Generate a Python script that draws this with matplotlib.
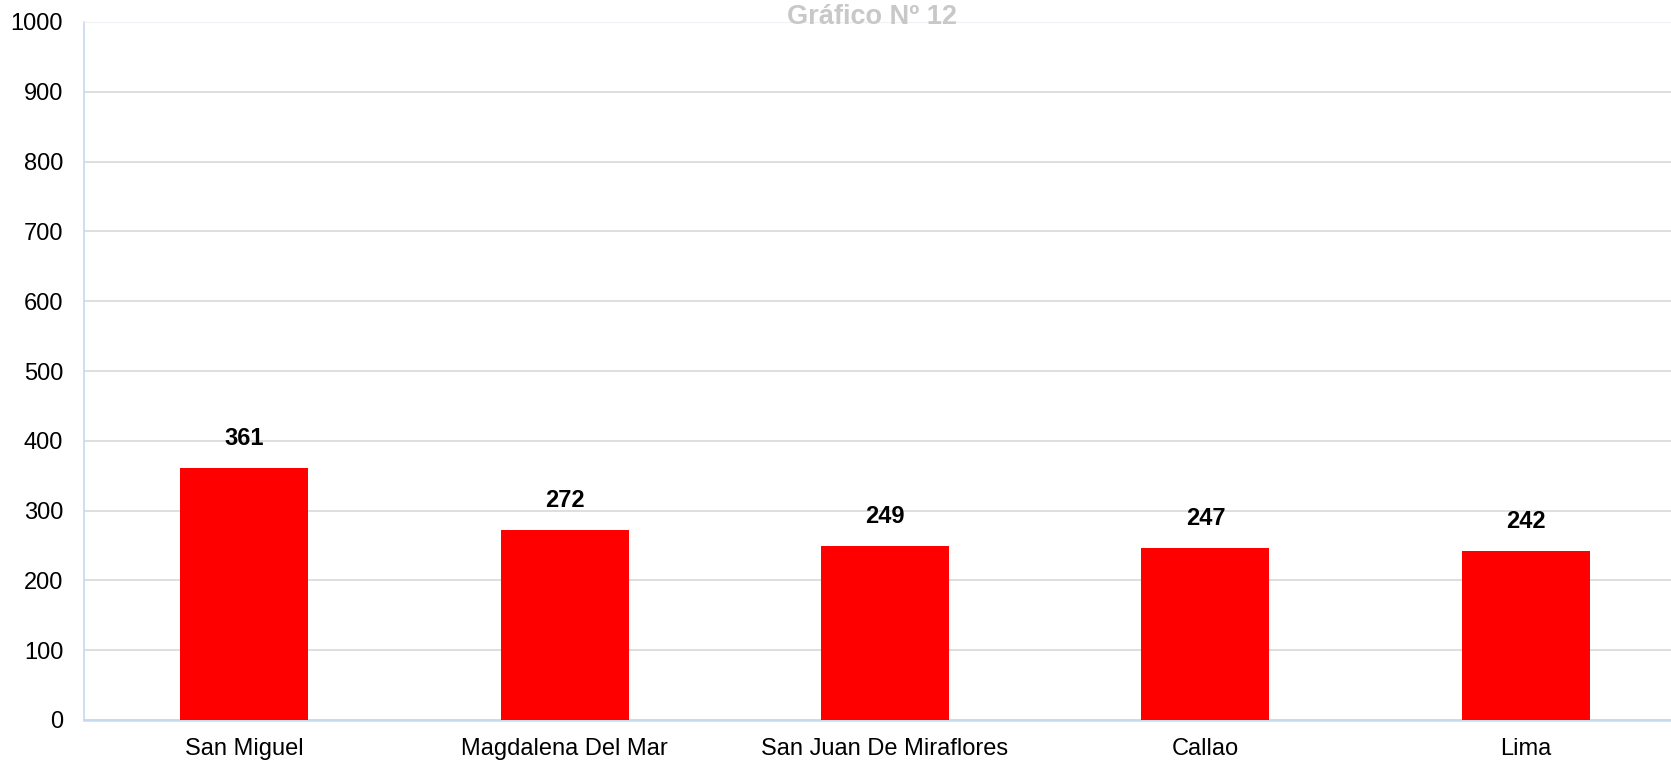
import matplotlib.pyplot as plt

plt.rcParams['font.family'] = ['Liberation Sans', 'DejaVu Sans']

distritos = ["San Miguel", "Magdalena Del Mar", "San Juan De Miraflores", "Callao", "Lima"]
valores = [361, 272, 249, 247, 242]
yticks = [0, 100, 200, 300, 400, 500, 600, 700, 800, 900, 1000]

W, H = 1671, 761
fig = plt.figure(figsize=(W / 100, H / 100), dpi=100)
# el grafico original se sale un poco por la derecha
ax = fig.add_axes([84 / W, 1 - 720 / H, 1602 / W, 698 / H])

pos = range(len(distritos))
barras = ax.bar(pos, valores, width=0.4, color="#ff0000", zorder=3)
for b, v in zip(barras, valores):
    ax.text(b.get_x() + b.get_width() / 2, v + 42, str(v), ha="center", va="center",
            fontsize=17, fontweight="bold", color="black")

ax.set_xlim(-0.5, len(distritos) - 0.5)
ax.set_ylim(0, 1000)
ax.set_yticks(yticks)
ax.set_xticks(list(pos))
ax.set_xticklabels(distritos)
ax.tick_params(axis="both", length=0, labelsize=17, colors="black")
ax.tick_params(axis="x", pad=13)
ax.tick_params(axis="y", pad=15)
ax.yaxis.grid(True, color="#d9d9d9", linewidth=1.2, zorder=0)

ax.spines["left"].set_color("#c6d9ef")
ax.spines["left"].set_linewidth(1.2)
ax.spines["bottom"].set_color("#c6d9ef")
ax.spines["bottom"].set_linewidth(1.8)
ax.spines["top"].set_color("#eef2f7")
ax.spines["right"].set_visible(False)

fig.text(872 / W, 1 - 17 / H, "Gráfico Nº 12", ha="center", va="center",
         fontsize=19.5, fontweight="bold", color="#c8c8c8")

fig.savefig("out.png", dpi=100)
